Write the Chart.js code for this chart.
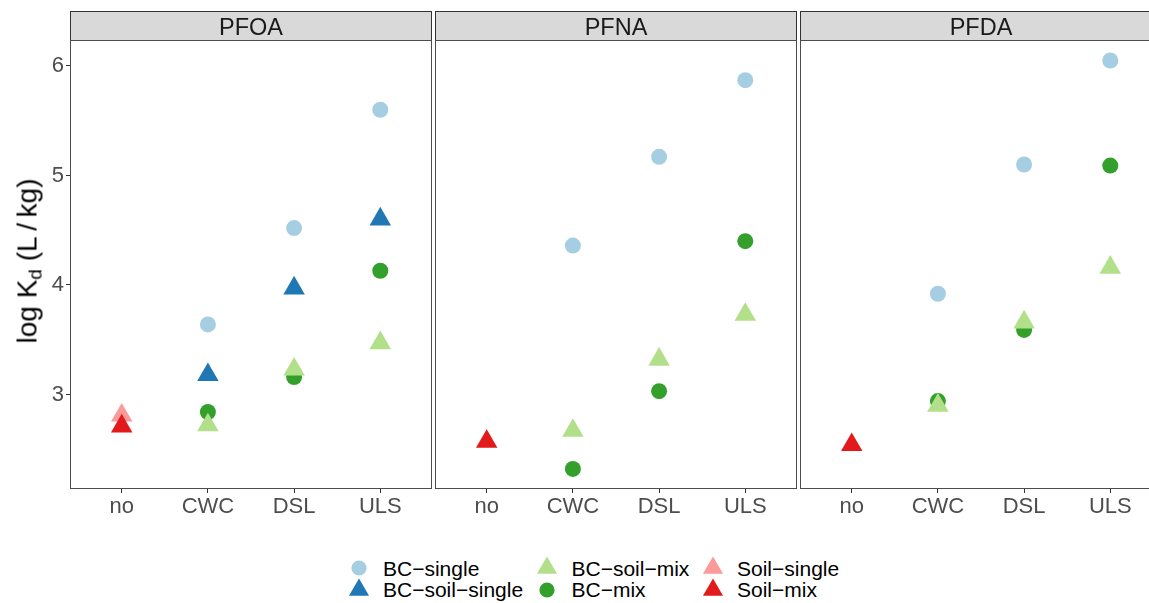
<!DOCTYPE html>
<html><head><meta charset="utf-8">
<script src="https://cdn.jsdelivr.net/npm/chart.js@4.4.0/dist/chart.umd.min.js"></script>
<style>
html,body{margin:0;padding:0;background:#fff;overflow:hidden;width:1149px;height:603px;}
#wrap{position:relative;width:1149px;height:603px;overflow:hidden;font-family:"Liberation Sans",Arial,sans-serif;}
canvas{position:absolute;top:0;}
.lt{position:absolute;font-size:21px;line-height:21px;color:#000;white-space:nowrap;}
.ls{position:absolute;}
#ytitle{position:absolute;left:29px;top:261px;transform:translate(-50%,-50%) rotate(-90deg);font-size:28px;white-space:nowrap;color:#000;}
#ytitle sub{font-size:19px;vertical-align:-5px;}
</style></head><body>
<div id="wrap">
<canvas id="c0" style="left:0px" width="432" height="535"></canvas>
<canvas id="c1" style="left:435px" width="362" height="535"></canvas>
<canvas id="c2" style="left:800px" width="362" height="535"></canvas>
<div id="ytitle">log K<sub>d</sub>&nbsp;(L&thinsp;/&thinsp;kg)</div>
<div id="legend"></div>
</div>
<script>
// ---- data ----
const categories = ['no', 'CWC', 'DSL', 'ULS'];
const panels = ['PFOA', 'PFNA', 'PFDA'];
const yTicks = [3, 4, 5, 6];
const seriesNames = ['BC\u2212single', 'BC\u2212soil\u2212single', 'BC\u2212soil\u2212mix', 'BC\u2212mix', 'Soil\u2212single', 'Soil\u2212mix'];
// one row per panel (PFOA, PFNA, PFDA), one value per category
const bcSingle     = [[null, 3.64, 4.52, 5.60], [null, 4.36, 5.17, 5.87], [null, 3.92, 5.10, 6.05]];
const bcSoilSingle = [[null, 3.18, 3.97, 4.60], [null, null, null, null], [null, null, null, null]];
const bcSoilMix    = [[null, 2.72, 3.23, 3.47], [null, 2.67, 3.32, 3.73], [null, 2.90, 3.66, 4.16]];
const bcMix        = [[null, 2.84, 3.16, 4.13], [null, 2.32, 3.03, 4.40], [null, 2.94, 3.59, 5.09]];
const soilSingle   = [[2.81, null, null, null], [null, null, null, null], [null, null, null, null]];
const soilMix      = [[2.71, null, null, null], [2.57, null, null, null], [2.54, null, null, null]];

const seriesValues = [bcSingle, bcSoilSingle, bcSoilMix, bcMix, soilSingle, soilMix];
const colors = ['#A6CEE3', '#1F78B4', '#B2DF8A', '#33A02C', '#FB9A99', '#E31A1C'];
const shapes = ['circle', 'triangle', 'triangle', 'circle', 'triangle', 'triangle'];
const drawOrder = [2, 2, 1, 2, 2, 1];

const Y_MIN = 2.137, Y_MAX = 6.237;

const stripPlugin = {
  id: 'strip',
  afterDraw(chart, args, opts) {
    const {ctx, chartArea: a} = chart;
    ctx.save();
    const h = 29;
    ctx.fillStyle = '#D9D9D9';
    ctx.fillRect(a.left, a.top - h, a.right - a.left, h);
    ctx.strokeStyle = '#333333';
    ctx.lineWidth = 1;
    ctx.strokeRect(a.left + 0.5, a.top - h + 0.5, a.right - a.left - 1, h);
    ctx.fillStyle = '#1A1A1A';
    ctx.font = '23.5px "Liberation Sans", Arial, sans-serif';
    ctx.textAlign = 'center';
    ctx.textBaseline = 'alphabetic';
    ctx.fillText(opts.label, (a.left + a.right) / 2, a.top - 5.5);
    ctx.strokeStyle = '#4D4D4D';
    ctx.strokeRect(a.left + 0.5, a.top + 0.5, a.right - a.left - 1, a.bottom - a.top - 1);
    ctx.restore();
  }
};

panels.forEach((p, pi) => {
  const datasets = seriesNames.map((name, si) => ({
    label: name,
    data: seriesValues[si][pi].map((v, ci) => v === null ? null : {x: ci + 1, y: v}).filter(d => d !== null),
    pointStyle: shapes[si],
    pointRadius: shapes[si] === 'circle' ? 8 : 12.4,
    pointHoverRadius: shapes[si] === 'circle' ? 8 : 12.4,
    backgroundColor: colors[si],
    borderWidth: 0,
    order: drawOrder[si],
    showLine: false
  }));
  const leftW = pi === 0 ? 70 : 0;
  new Chart(document.getElementById('c' + pi), {
    type: 'scatter',
    data: {datasets},
    plugins: [stripPlugin],
    options: {
      responsive: false,
      animation: false,
      events: [],
      layout: {autoPadding: false, padding: {top: 40, left: 0, right: 0, bottom: 0}},
      plugins: {legend: {display: false}, tooltip: {enabled: false}, strip: {label: p}},
      scales: {
        x: {
          type: 'linear', min: 0.4, max: 4.6,
          afterBuildTicks: s => { s.ticks = categories.map((c, i) => ({value: i + 1})); },
          afterFit: s => { s.height = 46; },
          ticks: {
            callback: v => categories[v - 1],
            color: '#4D4D4D', font: {size: 22, family: '"Liberation Sans", Arial, sans-serif'},
            padding: 1, maxRotation: 0, autoSkip: false
          },
          grid: {display: true, drawOnChartArea: false, drawTicks: true, tickLength: 4, color: '#333333', lineWidth: 1},
          border: {display: false}
        },
        y: {
          type: 'linear', min: Y_MIN, max: Y_MAX,
          display: pi === 0,
          afterBuildTicks: s => { s.ticks = yTicks.map(v => ({value: v})); },
          afterFit: s => { s.width = leftW; },
          ticks: {
            color: '#4D4D4D', font: {size: 22, family: '"Liberation Sans", Arial, sans-serif'},
            padding: 2
          },
          grid: {display: true, drawOnChartArea: false, drawTicks: true, tickLength: 4, color: '#333333', lineWidth: 1},
          border: {display: false}
        }
      }
    }
  });
});

// ---- legend (HTML) ----
const legendLayout = [
  {si: 0, col: 0, row: 0}, {si: 1, col: 0, row: 1},
  {si: 2, col: 1, row: 0}, {si: 3, col: 1, row: 1},
  {si: 4, col: 2, row: 0}, {si: 5, col: 2, row: 1}
];
const colSym = [359, 546.7, 712.7];
const colText = [383, 571.5, 737];
const rowY = [567.5, 590.3];
const rowTextTop = [558.2, 579];
const lg = document.getElementById('legend');
legendLayout.forEach(({si, col, row}) => {
  const svgNS = 'http://www.w3.org/2000/svg';
  const svg = document.createElementNS(svgNS, 'svg');
  svg.setAttribute('width', '30'); svg.setAttribute('height', '30');
  svg.setAttribute('class', 'ls');
  svg.style.left = (colSym[col] - 15) + 'px';
  svg.style.top = (rowY[row] - 15) + 'px';
  let el;
  if (shapes[si] === 'circle') {
    el = document.createElementNS(svgNS, 'circle');
    el.setAttribute('cx', 15); el.setAttribute('cy', 15); el.setAttribute('r', 7.6);
  } else {
    const r = 11.6;
    el = document.createElementNS(svgNS, 'polygon');
    const pts = [0, 1, 2].map(k => {
      const a = k * 2 * Math.PI / 3;
      return (15 + Math.sin(a) * r).toFixed(2) + ',' + (15 - Math.cos(a) * r).toFixed(2);
    });
    el.setAttribute('points', pts.join(' '));
  }
  el.setAttribute('fill', colors[si]);
  svg.appendChild(el);
  lg.appendChild(svg);
  const t = document.createElement('div');
  t.className = 'lt';
  t.style.left = colText[col] + 'px';
  t.style.top = rowTextTop[row] + 'px';
  t.textContent = seriesNames[si];
  lg.appendChild(t);
});
</script>
</body></html>
